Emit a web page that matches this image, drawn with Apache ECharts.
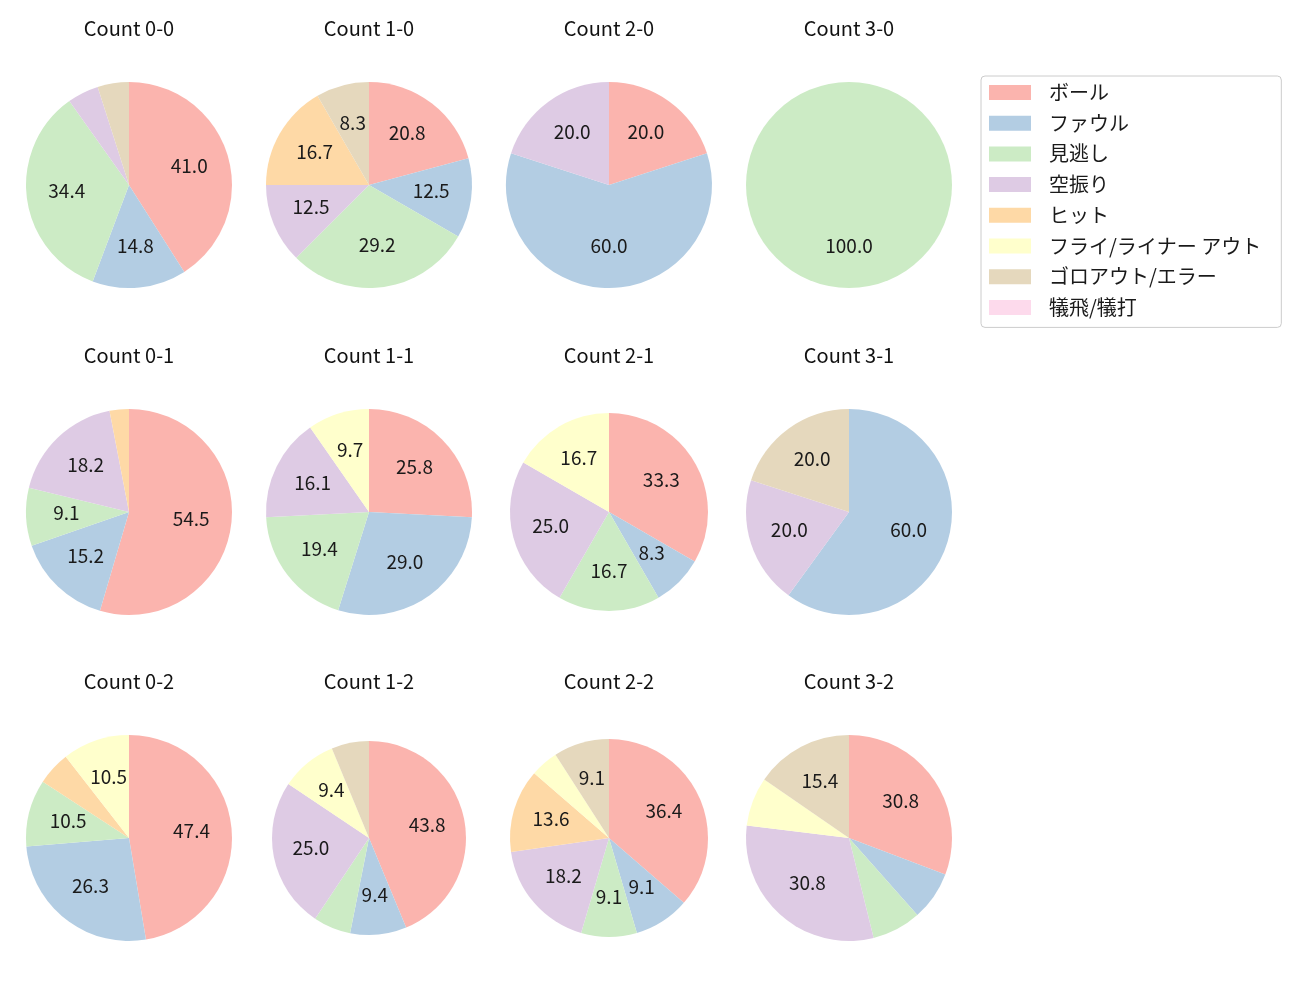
<!DOCTYPE html>
<html>
<head>
<meta charset="utf-8">
<script src="https://cdn.jsdelivr.net/npm/echarts@6/dist/echarts.min.js"></script>
<style>html,body{margin:0;padding:0;background:#fff;}#main{width:1300px;height:1000px;}</style>
</head>
<body>
<div id="main"></div>
<script>
// categories (legend order)
const categories = ['ボール','ファウル','見逃し','空振り','ヒット','フライ/ライナー アウト','ゴロアウト/エラー','犠飛/犠打'];
const colors = ['#fbb4ae','#b3cde3','#ccebc5','#decbe4','#fed9a6','#ffffcc','#e5d8bd','#fddaec'];
const titles = ['Count 0-0','Count 1-0','Count 2-0','Count 3-0',
                'Count 0-1','Count 1-1','Count 2-1','Count 3-1',
                'Count 0-2','Count 1-2','Count 2-2','Count 3-2'];
// counts per category (same order as categories)
const c00 = [25, 9, 21, 3, 0, 0, 3, 0];
const c10 = [5, 3, 7, 3, 4, 0, 2, 0];
const c20 = [1, 3, 0, 1, 0, 0, 0, 0];
const c30 = [0, 0, 1, 0, 0, 0, 0, 0];
const c01 = [18, 5, 3, 6, 1, 0, 0, 0];
const c11 = [8, 9, 6, 5, 0, 3, 0, 0];
const c21 = [4, 1, 2, 3, 0, 2, 0, 0];
const c31 = [0, 3, 0, 1, 0, 0, 1, 0];
const c02 = [9, 5, 2, 0, 1, 2, 0, 0];
const c12 = [14, 3, 2, 8, 0, 3, 2, 0];
const c22 = [8, 2, 2, 4, 3, 1, 2, 0];
const c32 = [4, 1, 1, 4, 0, 1, 2, 0];
const allCounts = [c00,c10,c20,c30,c01,c11,c21,c31,c02,c12,c22,c32];
const labelThreshold = 8; // percent

// layout
const colX = [129, 369, 609, 849];
const rowY = [185, 512, 838];
const radii = [103,103,103,103, 103,103,99,103, 103,97,99,103];
const font = '"Noto Sans CJK JP", "Noto Sans", sans-serif';

const series = [];
const labelSeries = [];
const title = [];
allCounts.forEach((counts, i) => {
  const cx = colX[i % 4], cy = rowY[Math.floor(i / 4)], r = radii[i];
  const data = categories.map((name, k) => ({name: name, value: counts[k]}));
  series.push({
    type: 'pie', center: [cx, cy], radius: [0, r], startAngle: 90, clockwise: true,
    data: data, label: {show: false}, labelLine: {show: false}, silent: true,
    itemStyle: {borderWidth: 0}, animation: false
  });
  labelSeries.push({
    type: 'pie', center: [cx, cy], radius: [0, r * 1.16], startAngle: 90, clockwise: true,
    data: data, silent: true, animation: false, z: 5,
    itemStyle: {color: 'rgba(0,0,0,0)', borderWidth: 0},
    labelLine: {show: false},
    label: {
      show: true, position: 'inside', color: '#1a1a1a', fontSize: 19, fontFamily: font,
      offset: [0, -2],
      formatter: p => (p.percent >= labelThreshold ? p.percent.toFixed(1) : '')
    }
  });
  title.push({
    text: titles[i], left: cx, top: cy - 156 - 14, textAlign: 'center', padding: 0,
    textStyle: {fontSize: 20, fontWeight: 'normal', color: '#111', fontFamily: font, lineHeight: 26}
  });
});

const chart = echarts.init(document.getElementById('main'), null, {renderer: 'canvas'});
chart.setOption({
  backgroundColor: '#fff',
  color: colors,
  animation: false,
  title: title,
  legend: {
    orient: 'vertical', left: 981, top: 76,
    data: categories.map((n, k) => ({name: n, itemStyle: {color: colors[k]}})),
    icon: 'rect', itemWidth: 42, itemHeight: 15, itemGap: 10.7,
    padding: [6.5, 20, 10, 8],
    borderColor: '#cccccc', borderWidth: 1, borderRadius: 4,
    selectedMode: false,
    textStyle: {fontSize: 20, color: '#1a1a1a', fontFamily: font, padding: [0, 0, 0, 13]}
  },
  series: series.concat(labelSeries)
});
</script>
</body>
</html>
